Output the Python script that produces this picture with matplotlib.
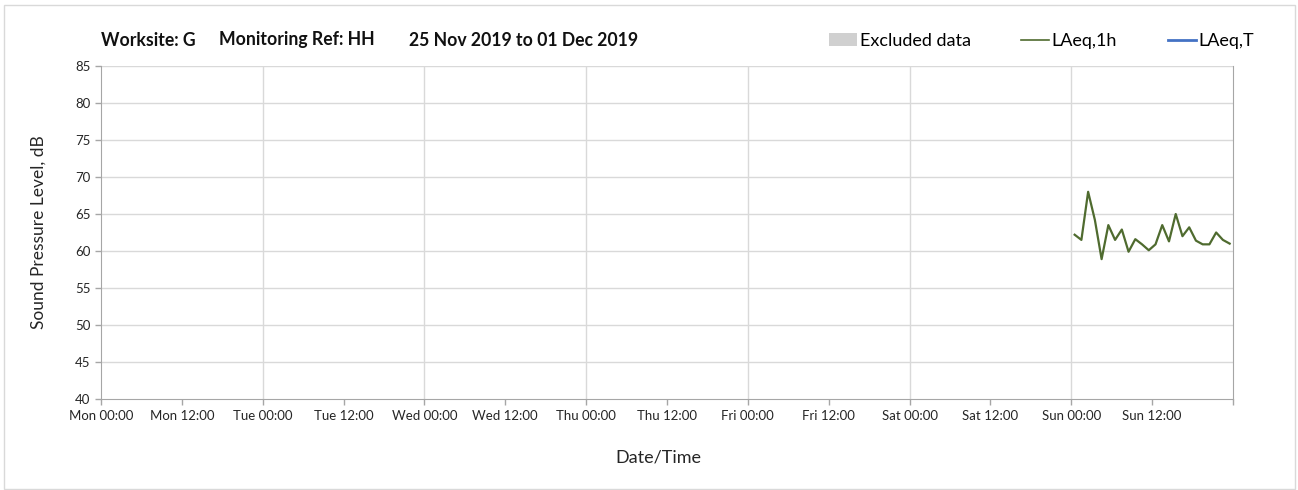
import matplotlib
matplotlib.use("Agg")
import matplotlib.pyplot as plt
import matplotlib.dates as mdates
from matplotlib.patches import Rectangle
from matplotlib.lines import Line2D
import datetime as dt

plt.rcParams['font.family'] = ['Lato', 'DejaVu Sans']

title_parts = ["Worksite: G", "Monitoring Ref: HH", "25 Nov 2019 to 01 Dec 2019"]
x_start = dt.datetime(2019, 11, 25, 0, 0)
x_end = dt.datetime(2019, 12, 2, 0, 0)

times = ["2019-12-01 00:30", "2019-12-01 01:30", "2019-12-01 02:30", "2019-12-01 03:30",
         "2019-12-01 04:30", "2019-12-01 05:30", "2019-12-01 06:30", "2019-12-01 07:30",
         "2019-12-01 08:30", "2019-12-01 09:30", "2019-12-01 10:30", "2019-12-01 11:30",
         "2019-12-01 12:30", "2019-12-01 13:30", "2019-12-01 14:30", "2019-12-01 15:30",
         "2019-12-01 16:30", "2019-12-01 17:30", "2019-12-01 18:30", "2019-12-01 19:30",
         "2019-12-01 20:30", "2019-12-01 21:30", "2019-12-01 22:30", "2019-12-01 23:30"]
laeq_1h = [62.2, 61.5, 68.0, 64.2, 58.9, 63.5, 61.5, 62.9, 59.9, 61.6, 60.9, 60.1,
           60.9, 63.5, 61.3, 65.0, 62.0, 63.2, 61.4, 60.9, 60.9, 62.5, 61.5, 61.0]

tick_labels = ["Mon 00:00", "Mon 12:00", "Tue 00:00", "Tue 12:00", "Wed 00:00", "Wed 12:00",
               "Thu 00:00", "Thu 12:00", "Fri 00:00", "Fri 12:00", "Sat 00:00", "Sat 12:00",
               "Sun 00:00", "Sun 12:00", ""]
y_ticks = [40, 45, 50, 55, 60, 65, 70, 75, 80, 85]

t = [dt.datetime.strptime(s, "%Y-%m-%d %H:%M") for s in times]

fig = plt.figure(figsize=(12.98, 4.90), dpi=100)
ax = fig.add_axes([101/1298, 1-399/490, (1233-101)/1298, (399-66)/490])

grid_c = "#d9d9d9"
ax.plot(t, laeq_1h, color="#4f6b2f", lw=1.6, label="LAeq,1h")

ax.set_xlim(x_start, x_end)
ax.set_ylim(40, 85)
xt = [x_start + dt.timedelta(hours=12*i) for i in range(len(tick_labels))]
ax.set_xticks(xt)
ax.set_xticklabels(tick_labels)
ax.set_yticks(y_ticks)
for d in range(1, 7):
    ax.axvline(x_start + dt.timedelta(days=d), color=grid_c, lw=1, zorder=0)
for y in y_ticks[1:]:
    ax.axhline(y, color=grid_c, lw=1, zorder=0)

for s in ["left", "bottom", "right"]:
    ax.spines[s].set_color("#a6a6a6")
ax.spines["top"].set_visible(False)
ax.tick_params(axis="both", colors="#a6a6a6", labelcolor="#262626", labelsize=9.5, length=4, width=1)
ax.tick_params(axis="x", pad=4)

ax.set_xlabel("Date/Time", fontsize=13, color="#262626")
ax.xaxis.set_label_coords((658-101)/1132, -(449-399)/333)
ax.set_ylabel("Sound Pressure Level, dB", fontsize=12.5, color="#262626")
ax.yaxis.set_label_coords(-(101-47)/1132, 0.5)

title_x = [101, 219, 409]
for txt, xp in zip(title_parts, title_x):
    fig.text(xp/1298, 1-40/490, txt, fontsize=12.7, fontweight="bold", va="center", ha="left", color="#111111")

handles = [Rectangle((0, 0), 1, 1, facecolor="#d0d0d0", edgecolor="none"),
           Line2D([], [], color="#4f6b2f", lw=1.2),
           Line2D([], [], color="#4472c4", lw=2)]
fig.legend(handles, ["Excluded data", "LAeq,1h", "LAeq,T"], ncol=3, frameon=False,
           loc="center right", bbox_to_anchor=(1254/1298, 1-41/490), fontsize=13,
           handlelength=1.55, handletextpad=0.15, columnspacing=2.8, handleheight=0.75,
           borderaxespad=0, borderpad=0)

fig.patches.append(Rectangle((4/1298, 1/490), 1291/1298, 484/490, transform=fig.transFigure,
                             fill=False, edgecolor="#d9d9d9", lw=1))

fig.savefig("out.png", dpi=100)
